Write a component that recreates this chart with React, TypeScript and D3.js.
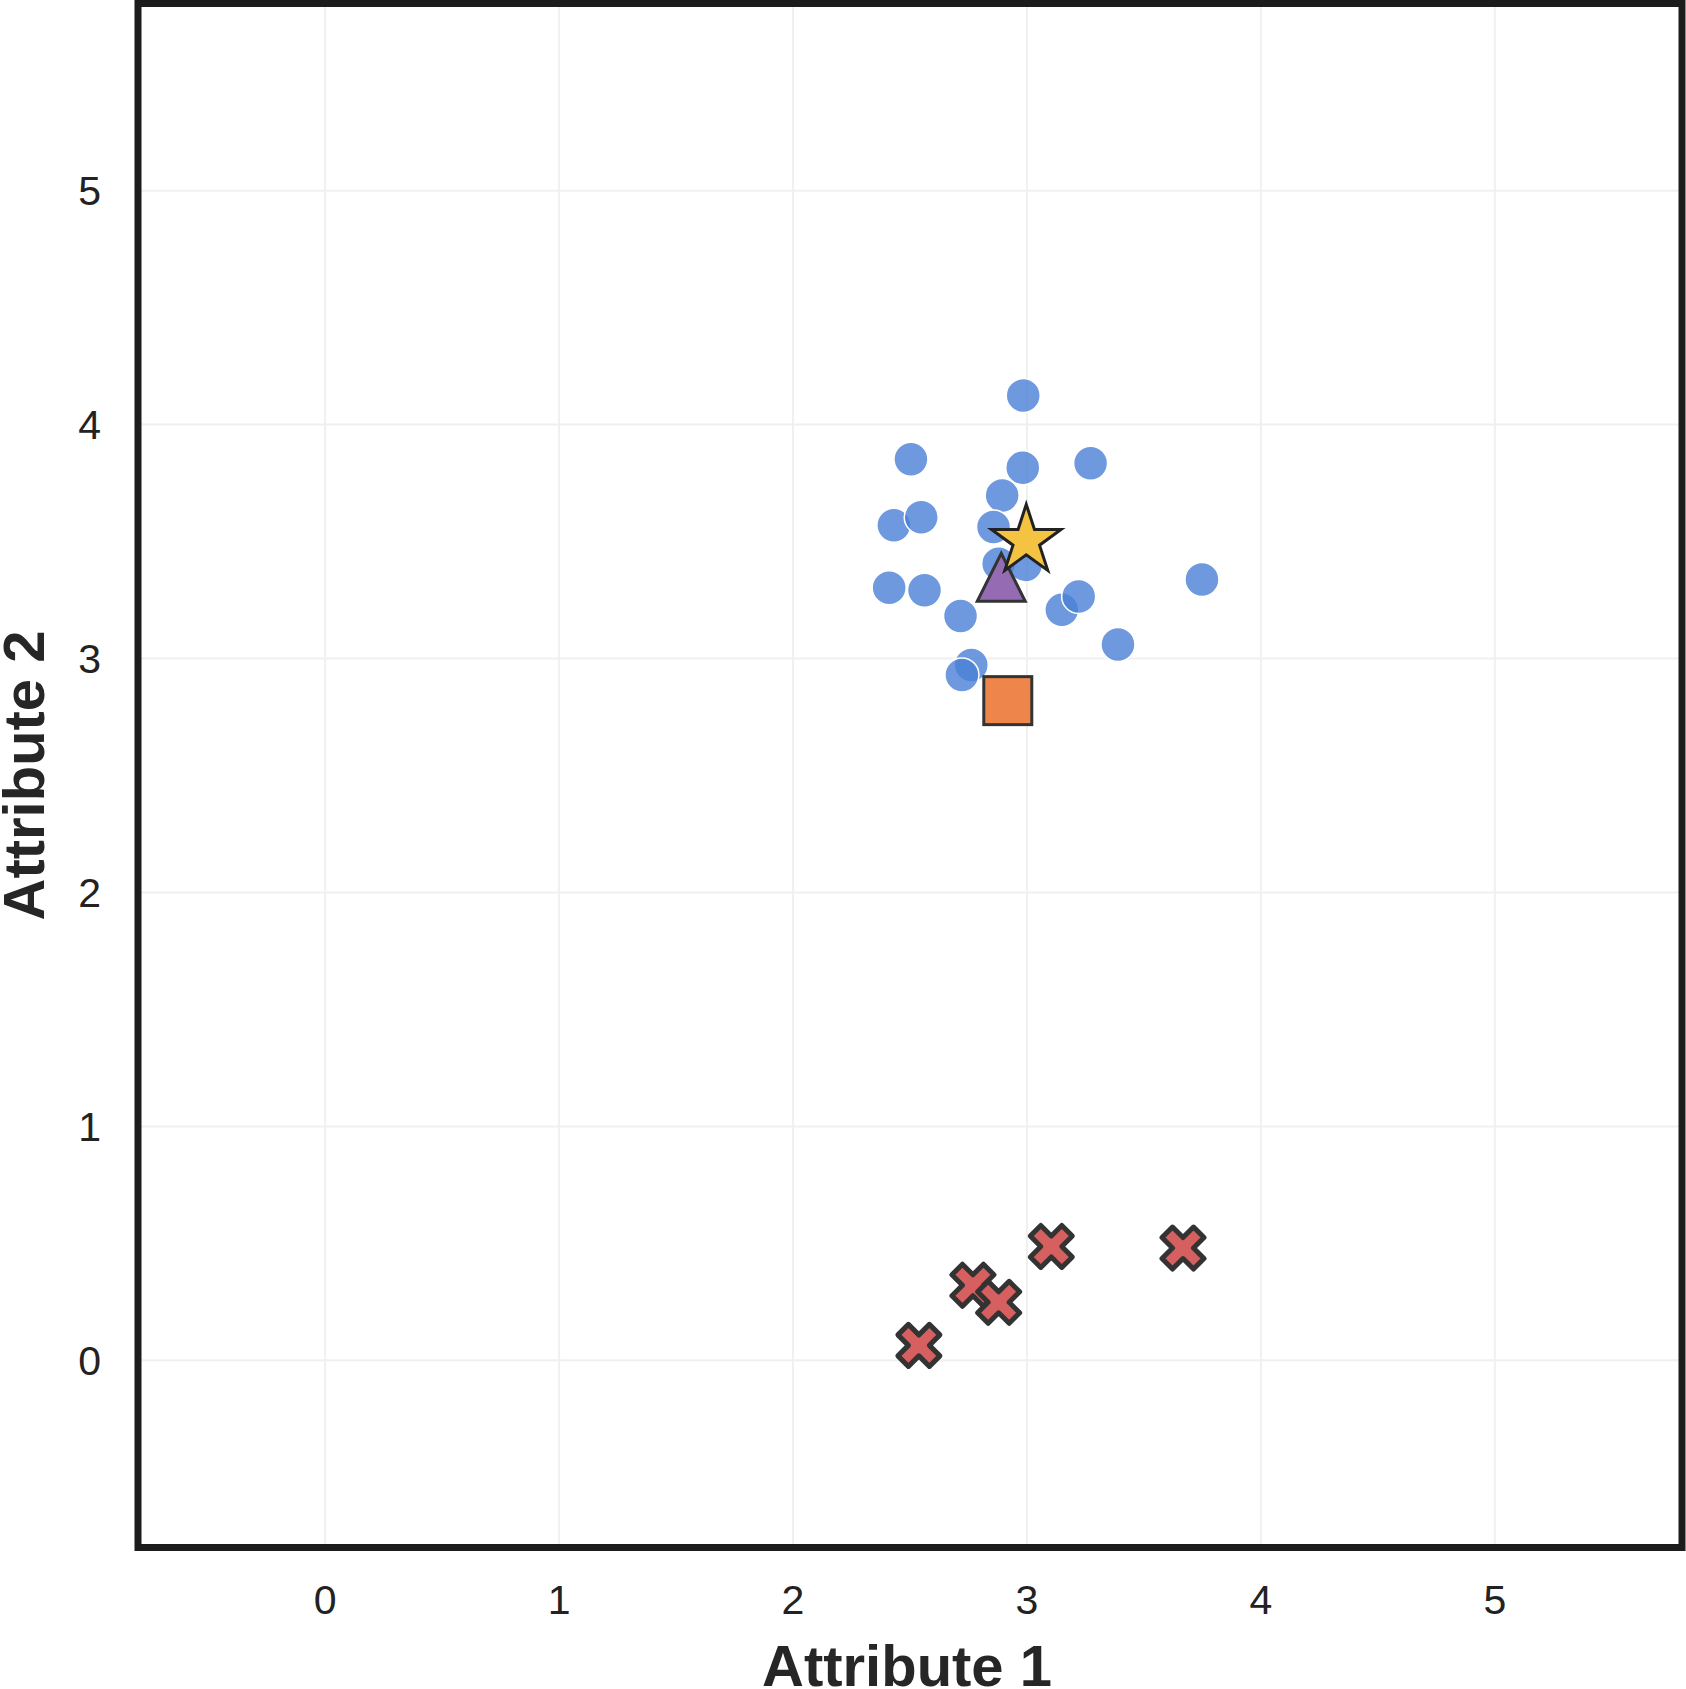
import * as React from "react";
import * as d3 from "d3";

// blue cluster points (Attribute 1, Attribute 2)
const clusterX = [2.984, 2.504, 2.982, 3.272, 2.894, 2.431, 2.548, 2.857, 2.879, 2.994, 2.411, 2.562, 2.716, 3.149, 3.221, 3.748, 3.389, 2.762, 2.722];
const clusterY = [4.124, 3.852, 3.816, 3.835, 3.697, 3.570, 3.604, 3.562, 3.405, 3.400, 3.303, 3.292, 3.182, 3.208, 3.265, 3.338, 3.060, 2.972, 2.930];

// red outliers
const outlierX = [2.538, 2.769, 2.879, 3.104, 3.667];
const outlierY = [0.064, 0.321, 0.248, 0.487, 0.480];

// single markers
const squarePt = [2.918, 2.82];
const trianglePt = [2.89, 3.347];
const starPt = [2.997, 3.503];

const xTicks = [0, 1, 2, 3, 4, 5];
const yTicks = [0, 1, 2, 3, 4, 5];
const domain: [number, number] = [-0.8, 5.8];

const W = 1686;
const H = 1689;
const PLOT = { left: 138, right: 1682, top: 3.5, bottom: 1547.5 };
const FONT = "Arial, 'Liberation Sans', Helvetica, sans-serif";

function xPath(s: number) {
  // matplotlib-like filled "X"
  const pts = [
    [-1, -2], [0, -1], [1, -2], [2, -1], [1, 0], [2, 1],
    [1, 2], [0, 1], [-1, 2], [-2, 1], [-1, 0], [-2, -1],
  ].map(([a, b]) => [(a / 4) * s, (b / 4) * s] as [number, number]);
  return d3.line()(pts) + "Z";
}

function starPath(R: number) {
  const r = R * 0.382;
  const pts: [number, number][] = [];
  for (let i = 0; i < 10; i++) {
    const ang = (Math.PI / 5) * i;
    const rad = i % 2 === 0 ? R : r;
    pts.push([rad * Math.sin(ang), -rad * Math.cos(ang)]);
  }
  return d3.line()(pts) + "Z";
}

export default function App() {
  const x = d3.scaleLinear().domain(domain).range([PLOT.left, PLOT.right]);
  const y = d3.scaleLinear().domain(domain).range([PLOT.bottom, PLOT.top]);
  const cx = (PLOT.left + PLOT.right) / 2;
  const cy = (PLOT.top + PLOT.bottom) / 2;

  return (
    <svg
      width={W}
      height={H}
      style={{ position: "absolute", left: 0, top: 0, background: "#fff" }}
      fontFamily={FONT}
    >
      {/* gridlines */}
      {xTicks.map((t) => (
        <line key={`gx-${t}`} x1={x(t)} x2={x(t)} y1={PLOT.top} y2={PLOT.bottom} stroke="#f0f0f0" strokeWidth={2} />
      ))}
      {yTicks.map((t) => (
        <line key={`gy-${t}`} x1={PLOT.left} x2={PLOT.right} y1={y(t)} y2={y(t)} stroke="#f0f0f0" strokeWidth={2} />
      ))}

      {/* cluster */}
      {clusterX.map((v, i) => (
        <circle
          key={`c-${i}`}
          cx={x(v)}
          cy={y(clusterY[i])}
          r={17}
          fill="#4a7fd6"
          fillOpacity={0.8}
          stroke="#fff"
          strokeWidth={1.5}
        />
      ))}

      {/* outliers */}
      {outlierX.map((v, i) => (
        <path
          key={`x-${i}`}
          d={xPath(42)}
          transform={`translate(${x(v)},${y(outlierY[i])})`}
          fill="#d65f5f"
          stroke="#333"
          strokeWidth={5}
          strokeLinejoin="round"
        />
      ))}

      {/* square */}
      <rect
        x={x(squarePt[0]) - 24}
        y={y(squarePt[1]) - 24}
        width={48}
        height={48}
        fill="#ee854a"
        stroke="#333"
        strokeWidth={3}
      />

      {/* triangle */}
      <path
        d="M0,-24L-24,24L24,24Z"
        transform={`translate(${x(trianglePt[0])},${y(trianglePt[1])})`}
        fill="#956cb4"
        stroke="#333"
        strokeWidth={3}
      />

      {/* star */}
      <path
        d={starPath(36.5)}
        transform={`translate(${x(starPt[0])},${y(starPt[1])})`}
        fill="#f5c342"
        stroke="#222"
        strokeWidth={3}
        strokeLinejoin="miter"
      />

      {/* frame */}
      <rect
        x={PLOT.left}
        y={PLOT.top}
        width={PLOT.right - PLOT.left}
        height={PLOT.bottom - PLOT.top}
        fill="none"
        stroke="#1c1c1c"
        strokeWidth={7}
      />

      {/* tick labels */}
      {xTicks.map((t) => (
        <text key={`xt-${t}`} x={x(t)} y={1614} textAnchor="middle" fontSize={41} fill="#222">
          {t}
        </text>
      ))}
      {yTicks.map((t) => (
        <text key={`yt-${t}`} x={101} y={y(t)} dy="0.35em" textAnchor="end" fontSize={41} fill="#222">
          {t}
        </text>
      ))}

      {/* axis labels */}
      <text x={cx - 3} y={1686} textAnchor="middle" fontSize={58} fontWeight="bold" fill="#262626">
        Attribute 1
      </text>
      <text
        transform={`translate(44,${cy}) rotate(-90)`}
        textAnchor="middle"
        fontSize={58}
        fontWeight="bold"
        fill="#262626"
      >
        Attribute 2
      </text>
    </svg>
  );
}
